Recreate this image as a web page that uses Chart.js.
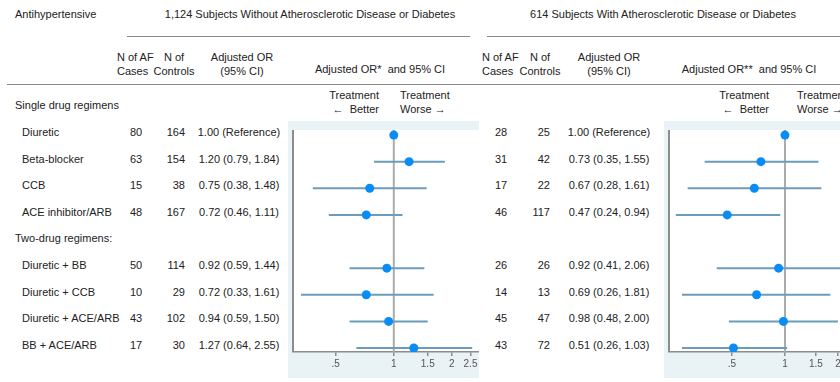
<!DOCTYPE html>
<html>
<head>
<meta charset="utf-8">
<script src="https://cdn.jsdelivr.net/npm/chart.js@4"></script>
<style>
  html, body { margin: 0; padding: 0; }
  body { width: 840px; height: 382px; overflow: hidden; position: relative; background: #fff;
         font-family: "Liberation Sans", Arial, sans-serif; font-size: 11px; color: #222; }
  .t { position: absolute; white-space: nowrap; line-height: 14px; }
  .c { transform: translateX(-50%); text-align: center; }
  .r { transform: translateX(-100%); text-align: right; }
  .hl { position: absolute; height: 0; border-top: 1.5px solid #8a8a8a; }
  canvas { position: absolute; background: #e9f2f5; }
</style>
</head>
<body>
<div id="txt"></div>
<div class="hl" style="left:127px; width:343px; top:36px"></div>
<div class="hl" style="left:487px; width:353px; top:36px"></div>
<div class="hl" style="left:7px; width:833px; top:84px"></div>
<canvas id="chartNo" width="191" height="257" style="left:288px; top:121px"></canvas>
<canvas id="chartWith" width="206" height="257" style="left:664px; top:121px"></canvas>

<script>
/* Forest plot: antihypertensive regimens vs AF, by atherosclerotic disease / diabetes */

const regimens = ["Diuretic", "Beta-blocker", "CCB", "ACE inhibitor/ARB",
                  "Diuretic + BB", "Diuretic + CCB", "Diuretic + ACE/ARB", "BB + ACE/ARB"];
const rowIndex = [0, 1, 2, 3, 5, 6, 7, 8];
const sections = [{ label: "Single drug regimens", row: -1 }, { label: "Two-drug regimens:", row: 4 }];

// 1,124 subjects without atherosclerotic disease or diabetes
const noCases = [80, 63, 15, 48, 50, 10, 43, 17];
const noControls = [164, 154, 38, 167, 114, 29, 102, 30];
const noOR = [1.00, 1.20, 0.75, 0.72, 0.92, 0.72, 0.94, 1.27];
const noLow = [null, 0.79, 0.38, 0.46, 0.59, 0.33, 0.59, 0.64];
const noHigh = [null, 1.84, 1.48, 1.11, 1.44, 1.61, 1.50, 2.55];

// 614 subjects with atherosclerotic disease or diabetes
const withCases = [28, 31, 17, 46, 26, 14, 45, 43];
const withControls = [25, 42, 22, 117, 26, 13, 47, 72];
const withOR = [1.00, 0.73, 0.67, 0.47, 0.92, 0.69, 0.98, 0.51];
const withLow = [null, 0.35, 0.28, 0.24, 0.41, 0.26, 0.48, 0.26];
const withHigh = [null, 1.55, 1.61, 0.94, 2.06, 1.81, 2.00, 1.03];

const tickValues = [0.5, 1, 1.5, 2, 2.5];

const fmt2 = (n) => n.toFixed(2);
const orText = (or, lo, hi) => lo == null ? fmt2(or) + " (Reference)" : `${fmt2(or)} (${fmt2(lo)}, ${fmt2(hi)})`;

// ---- text table ----
const rowY = (i) => 132 + i * 26.6 - 7;
const txt = [];
const put = (x, y, s, cls = "") => txt.push(`<div class="t ${cls}" style="left:${x}px;top:${y}px">${s}</div>`);

put(15, 7, "Antihypertensive");
put(310, 7, "1,124 Subjects Without Atherosclerotic Disease or Diabetes", "c");
put(663, 7, "614 Subjects With Atherosclerotic Disease or Diabetes", "c");

[[117, 174, 242, 380, "Adjusted OR*&nbsp; and 95% CI"], [482, 540, 609, 749, "Adjusted OR**&nbsp; and 95% CI"]]
  .forEach(([xa, xb, xc, xd, lab]) => {
    put(xa, 50, "N of AF<br>Cases");
    put(xb, 50, "N of<br>Controls", "c");
    put(xc, 50, "Adjusted OR<br>(95% CI)", "c");
    put(xd, 62, lab, "c");
  });
[[379, 400], [769, 797]].forEach(([xb, xw]) => {
  put(xb, 88, "Treatment<br>&larr;&nbsp; Better", "r");
  put(xw, 88, "Treatment<br>Worse &rarr;");
});

sections.forEach((s) => put(15, rowY(s.row), s.label));
regimens.forEach((name, k) => {
  const y = rowY(rowIndex[k]);
  put(22, y, name);
  put(130, y, noCases[k]);
  put(185, y, noControls[k], "r");
  put(239, y, orText(noOR[k], noLow[k], noHigh[k]), "c");
  put(495, y, withCases[k]);
  put(550, y, withControls[k], "r");
  put(609, y, orText(withOR[k], withLow[k], withHigh[k]), "c");
});
document.getElementById("txt").innerHTML = txt.join("");

// ---- forest plots ----
const framePlugin = {
  id: "frame",
  beforeDraw(chart) {
    const { ctx, chartArea: a } = chart;
    ctx.save();
    ctx.fillStyle = "#fff";
    ctx.fillRect(a.left, a.top, a.right - a.left, a.bottom - a.top);
    ctx.restore();
  },
  beforeDatasetsDraw(chart) {
    const { ctx, chartArea: a, scales } = chart;
    const x1 = scales.x.getPixelForValue(1);
    ctx.save();
    ctx.strokeStyle = "#ababab";
    ctx.lineWidth = 2;
    ctx.beginPath();
    ctx.moveTo(x1, a.top);
    ctx.lineTo(x1, a.bottom);
    ctx.stroke();
    ctx.strokeStyle = "#8c8c8c";
    ctx.beginPath();
    ctx.moveTo(a.left, a.top);
    ctx.lineTo(a.left, a.bottom);
    ctx.stroke();
    ctx.restore();
  },
};

function forest(id, or, lo, hi, xMin, xMax) {
  const ciSets = [];
  or.forEach((v, k) => {
    if (lo[k] == null) return;
    ciSets.push({
      data: [{ x: lo[k], y: rowIndex[k] }, { x: hi[k], y: rowIndex[k] }],
      showLine: true, pointRadius: 0, borderColor: "#6b9cbc", borderWidth: 2, order: 2,
    });
  });
  new Chart(document.getElementById(id), {
    type: "scatter",
    data: {
      datasets: [
        {
          data: or.map((v, k) => ({ x: v, y: rowIndex[k] })),
          pointRadius: 4.5, pointBackgroundColor: "#0a8cf5", pointBorderWidth: 0, order: 0,
        },
        ...ciSets,
      ],
    },
    options: {
      responsive: false,
      animation: false,
      devicePixelRatio: 1,
      layout: { autoPadding: false, padding: { left: 5, top: 9, right: 0, bottom: 0 } },
      plugins: { legend: { display: false }, tooltip: { enabled: false } },
      scales: {
        x: {
          type: "logarithmic", min: xMin, max: xMax,
          afterBuildTicks: (s) => { s.ticks = tickValues.map((v) => ({ value: v })); },
          afterFit: (s) => { s.height = 26; s.paddingLeft = 0; s.paddingRight = 0; },
          ticks: {
            autoSkip: false, maxRotation: 0, padding: 2, color: "#555",
            font: { family: "Liberation Sans", size: 10 },
            callback: (v) => (v === 0.5 ? ".5" : String(v)),
          },
          grid: { display: true, drawOnChartArea: false, drawTicks: true, tickLength: 4, color: "#8c8c8c", lineWidth: 1.5 },
          border: { display: true, color: "#8c8c8c", width: 1.5 },
        },
        y: { display: false, min: -0.19, max: 8.15, reverse: true },
      },
    },
    plugins: [framePlugin],
  });
}

forest("chartNo", noOR, noLow, noHigh, 0.306, 2.767);
forest("chartWith", withOR, withLow, withHigh, 0.2195, 3.04);
</script>
</body>
</html>
